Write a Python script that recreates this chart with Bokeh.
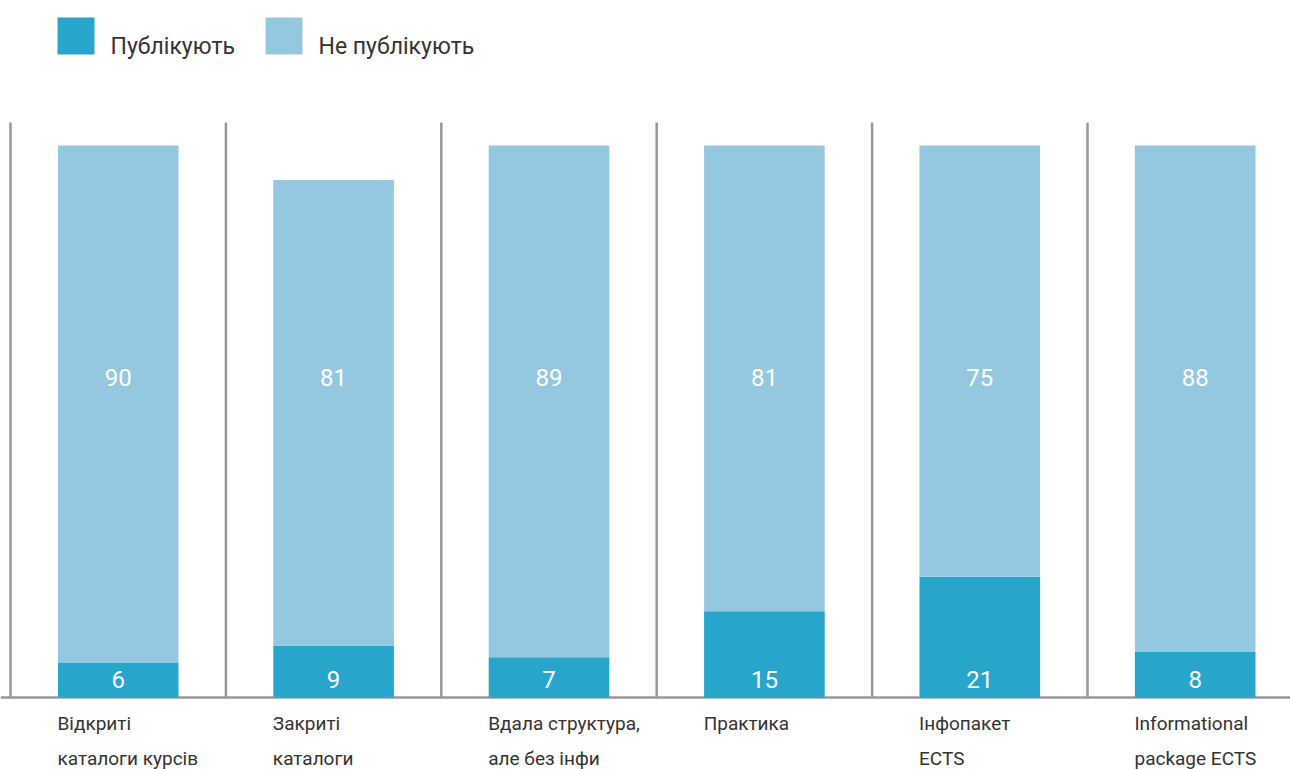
from bokeh.plotting import figure
from bokeh.models import ColumnDataSource, Range1d
from bokeh.core.properties import value
from bokeh.embed import file_html
from bokeh.resources import INLINE

# ---- data ----
categories = ["Відкриті\nкаталоги курсів", "Закриті\nкаталоги", "Вдала структура,\nале без інфи",
              "Практика", "Інфопакет\nECTS", "Informational\npackage ECTS"]
publish = [6, 9, 7, 15, 21, 8]
not_publish = [90, 81, 89, 81, 75, 88]
series_names = ["Публікують", "Не публікують"]
colors = ["#27A5CB", "#94C8E0"]

FONT = "Roboto"
n = len(categories)
unit = 215.4  # px per category
W, H = 1290, 769
x0 = -10 / unit
ypx = 5.75
y_top = 697 / ypx
y_bot = -(H - 697) / ypx


def dx(px):  # screen x -> data x (layout helper)
    return x0 + px / unit


def dy(py):  # screen y -> data y (layout helper)
    return y_top - py / ypx


p = figure(width=W, height=H, output_backend="svg", toolbar_location=None,
           x_range=Range1d(x0, x0 + W / unit), y_range=Range1d(y_bot, y_top),
           min_border=0, min_border_left=0, min_border_right=0, min_border_top=0, min_border_bottom=0)
p.axis.visible = False
p.grid.visible = False
p.outline_line_color = None
p.background_fill_color = "white"

xs = [i + 0.5 for i in range(n)]
line1 = [c.split("\n")[0] for c in categories]
line2 = [c.split("\n")[1] if "\n" in c else "" for c in categories]
src = ColumnDataSource(dict(x=xs, pub=publish, notpub=not_publish,
                            pub_s=[str(v) for v in publish], notpub_s=[str(v) for v in not_publish],
                            lx=[i + 0.218 for i in range(n)], l1=line1, l2=line2,
                            sep=list(range(n))))

# separators and baseline
p.segment(x0="sep", y0=0, x1="sep", y1=100, source=src, line_color="#98989C", line_width=2.5)
p.segment(x0=x0, y0=0, x1=x0 + W / unit, y1=0, line_color="#98989C", line_width=2.5)

p.vbar_stack(["pub", "notpub"], x="x", width=0.56, color=colors, source=src, line_color=None)

# value labels
p.text(x="x", y=3.1, text="pub_s", source=src, text_color="white", text_align="center",
       text_baseline="middle", text_font=value(FONT), text_font_size="24px", text_font_style="normal")
p.text(x="x", y=55.7, text="notpub_s", source=src, text_color="white", text_align="center",
       text_baseline="middle", text_font=value(FONT), text_font_size="24px", text_font_style="normal")

# category labels
p.text(x="lx", y=-4.5, text="l1", source=src, text_color="#333333", text_align="left",
       text_baseline="middle", text_font=value(FONT), text_font_size="19px")
p.text(x="lx", y=-10.6, text="l2", source=src, text_color="#333333", text_align="left",
       text_baseline="middle", text_font=value(FONT), text_font_size="19px")

# legend (manual, to match square/text offsets)
sq_left = [57, 265]
leg = ColumnDataSource(dict(
    left=[dx(v) for v in sq_left], right=[dx(v + 37) for v in sq_left],
    top=[dy(17)] * 2, bottom=[dy(54)] * 2,
    tx=[dx(v + 53) for v in sq_left], ty=[dy(46)] * 2,
    label=series_names, color=colors))
p.quad(left="left", right="right", top="top", bottom="bottom", color="color", line_color=None, source=leg)
p.text(x="tx", y="ty", text="label", source=leg, text_color="#333333", text_align="left",
       text_baseline="middle", text_font=value(FONT), text_font_size="23px")

open("out.html", "w").write(file_html(p, INLINE))
